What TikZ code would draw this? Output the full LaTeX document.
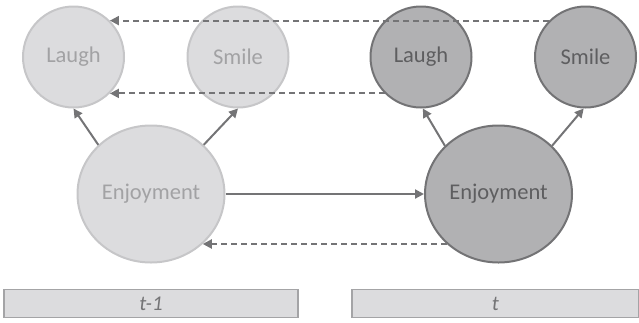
\documentclass[tikz,border=0pt]{standalone}
\usepackage{fontspec}
\setmainfont{Carlito}
\usetikzlibrary{shapes.geometric,arrows.meta}
\definecolor{pastfill}{HTML}{DCDCDE}
\definecolor{pastline}{HTML}{C6C6C8}
\definecolor{pasttext}{HTML}{A2A2A4}
\definecolor{nowfill}{HTML}{B1B1B3}
\definecolor{nowline}{HTML}{737375}
\definecolor{nowtext}{HTML}{5E5E60}
\definecolor{edge}{HTML}{747476}
\definecolor{barline}{HTML}{A4A4A6}
\begin{document}
\begin{tikzpicture}[x=1pt,y=-1pt,
  obs/.style={circle,minimum size=101pt,inner sep=0pt,line width=2pt,
    font=\fontsize{22.5}{26}\selectfont},
  latent/.style={ellipse,minimum width=147pt,minimum height=137pt,inner sep=0pt,
    line width=2pt,font=\fontsize{22.5}{26}\selectfont},
  past/.style={fill=pastfill,draw=pastline,text=pasttext},
  now/.style={fill=nowfill,draw=nowline,text=nowtext},
  link/.style={draw=edge,line width=2pt,-{Triangle[length=9pt,width=9pt]}},
  carry/.style={link,dash pattern=on 6pt off 4pt},
  slice/.style={rectangle,fill=pastfill,draw=barline,line width=1.3pt,
    minimum height=28pt,inner sep=0pt,text=edge,
    font=\fontsize{21}{24}\selectfont\itshape}]
\useasboundingbox (0,0) rectangle (639,322);

% time slice t-1
\node[obs,past] (laughA) at (73.5,57) {Laugh};
\node[obs,past] (smileA) at (238,57) {Smile};
\node[latent,past] (joyA) at (151,194) {Enjoyment};

% time slice t
\node[obs,now] (laughB) at (421,57) {Laugh};
\node[obs,now] (smileB) at (585.5,57) {Smile};
\node[latent,now] (joyB) at (498.5,194) {Enjoyment};

% emissions within each slice
\draw[link] (joyA.137) -- (laughA.270);
\draw[link] (joyA.43) -- (smileA.270);
\draw[link] (joyB.138) -- (laughB.272);
\draw[link] (joyB.42) -- (smileB.268);

% transition and backward messages
\draw[link] (joyA.east) -- (joyB.west);
\draw[carry] (smileB.135) -- (laughA.45);
\draw[carry] (laughB.225) -- (laughA.315);
\draw[carry] (joyB.224) -- (joyA.316);

% slice labels
\node[slice,minimum width=294pt] (barA) at (151,303.5) {t-1};
\node[slice,minimum width=287pt] (barB) at (495.5,303.5) {t};
\end{tikzpicture}
\end{document}
